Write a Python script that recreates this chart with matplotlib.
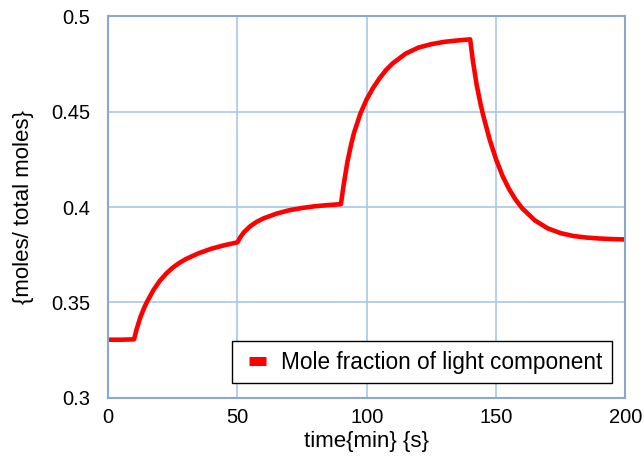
import matplotlib.pyplot as plt
from matplotlib.legend_handler import HandlerLine2D

plt.rcParams["font.family"] = ["Liberation Sans", "DejaVu Sans"]

# time points and mole fraction
time = [0, 5, 10, 11, 12.5, 14, 15, 17.5, 20, 22.5, 25, 27.5, 30, 35, 40, 45, 50,
        51, 52.5, 55, 57.5, 60, 65, 70, 75, 80, 85, 90,
        91, 92.5, 94, 95, 97.5, 100, 102.5, 105, 107.5, 110, 115, 120, 125, 130, 135, 140,
        141, 142.5, 144, 145, 147.5, 150, 152.5, 155, 157.5, 160, 165, 170, 175, 180, 185, 190, 195, 200]
frac = [0.3305, 0.3305, 0.3307, 0.3360, 0.3425, 0.3475, 0.3503, 0.3565, 0.3614, 0.3652, 0.3683, 0.3707, 0.3727, 0.3758, 0.3782, 0.3800, 0.3815,
        0.3840, 0.3868, 0.3900, 0.3923, 0.3940, 0.3965, 0.3983, 0.3995, 0.4004, 0.4010, 0.4015,
        0.4110, 0.4235, 0.4330, 0.4385, 0.4488, 0.4565, 0.4625, 0.4675, 0.4718, 0.4752, 0.4803, 0.4835, 0.4853, 0.4865, 0.4872, 0.4878,
        0.4770, 0.4640, 0.4540, 0.4482, 0.4355, 0.4250, 0.4163, 0.4095, 0.4040, 0.3995, 0.3930, 0.3888, 0.3863, 0.3848, 0.3840, 0.3835, 0.3832, 0.3830]

x_ticks = [0, 50, 100, 150, 200]
y_ticks = [0.3, 0.35, 0.4, 0.45, 0.5]
y_tick_labels = ["0.3", "0.35", "0.4", "0.45", "0.5"]


class ShortLine(HandlerLine2D):
    # draw the legend swatch only on the right part of the handle area
    def create_artists(self, legend, orig_handle, xdescent, ydescent,
                       width, height, fontsize, trans):
        arts = super().create_artists(legend, orig_handle, xdescent, ydescent,
                                      width, height, fontsize, trans)
        for a in arts:
            xd = list(a.get_xdata())
            yd = list(a.get_ydata())
            if len(xd) > 1:
                a.set_data([xd[0] + 0.3 * (xd[-1] - xd[0]), xd[-1]], [yd[0], yd[0]])
            a.set_linewidth(6.5)
            a.set_solid_capstyle("butt")
        return arts


fig, ax = plt.subplots(figsize=(6.44, 4.59), dpi=100)
fig.subplots_adjust(left=0.168, right=0.971, top=0.965, bottom=0.133)

line, = ax.plot(time, frac, color="#FF0000", lw=3.3, solid_joinstyle="round",
                label="Mole fraction of light component")

ax.set_xlim(0, 200)
ax.set_ylim(0.3, 0.5)
ax.set_xticks(x_ticks)
ax.set_yticks(y_ticks)
ax.set_yticklabels(y_tick_labels)
ax.grid(True, color="#A8C8EC", lw=1.2)
ax.set_axisbelow(True)
for s in ax.spines.values():
    s.set_color("#8AA8CC")
    s.set_linewidth(1.5)
ax.tick_params(length=0, labelsize=14.5)
ax.tick_params(axis="y", pad=13)
ax.tick_params(axis="x", pad=7)

ax.set_xlabel("time{min} {s}", fontsize=16, labelpad=3)
ax.set_ylabel("{moles/ total moles}", fontsize=16, labelpad=12)

leg = ax.legend(loc="lower right", fontsize=16.3, fancybox=False, framealpha=1,
                edgecolor="black", handlelength=1.05, handletextpad=0.68,
                borderpad=0.42, borderaxespad=0, bbox_to_anchor=(0.974, 0.038),
                handler_map={line: ShortLine()})
leg.get_frame().set_linewidth(1.0)

plt.savefig("out.png", dpi=100)
